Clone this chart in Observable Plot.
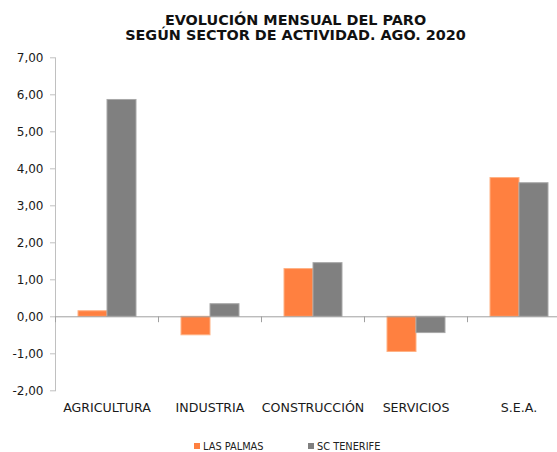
<!DOCTYPE html>
<html>
<head>
<meta charset="utf-8">
<script src="https://cdn.jsdelivr.net/npm/d3@7"></script>
<script src="https://cdn.jsdelivr.net/npm/@observablehq/plot@0.6"></script>
<style>
  html, body { margin: 0; padding: 0; background: #fff; }
  body { width: 557px; height: 452px; overflow: hidden; position: relative; font-family: "DejaVu Sans", sans-serif; }
  #title { box-sizing: border-box; height: 44px; padding-top: 13px; padding-left: 34px; text-align: center;
           font-weight: bold; font-size: 14.4px; line-height: 15px; color: #111; white-space: nowrap; }
  #chart { width: 557px; overflow: hidden; }
  #legend { position: absolute; top: 439px; left: 0; width: 557px; height: 14px; font-size: 9.8px; color: #222; }
  .item { position: absolute; top: 0; display: flex; align-items: center; height: 14px; }
  .sw { width: 6px; height: 6px; margin-right: 3px; }
</style>
</head>
<body>
<div id="title">EVOLUCIÓN MENSUAL DEL PARO<br>SEGÚN SECTOR DE ACTIVIDAD. AGO. 2020</div>
<div id="chart"></div>
<div id="legend"></div>
<script>
const categories = ["AGRICULTURA", "INDUSTRIA", "CONSTRUCCIÓN", "SERVICIOS", "S.E.A."];
const series = ["LAS PALMAS", "SC TENERIFE"];
const lasPalmas = [0.15, -0.50, 1.29, -0.95, 3.75];
const scTenerife = [5.86, 0.34, 1.45, -0.44, 3.61];
const yTicks = [-2, -1, 0, 1, 2, 3, 4, 5, 6, 7];
const colors = ["#FF8040", "#808080"];
const borders = ["#FFB184", "#A8A8A8"];

const values = [lasPalmas, scTenerife];
const rows = [];
categories.forEach((c, i) => series.forEach((s, j) => rows.push({cat: c, serie: s, value: values[j][i]})));

const fmt = d => d.toFixed(2).replace(".", ",");

const plot = Plot.plot({
  width: 570,
  height: 380,
  marginLeft: 54,
  marginRight: 0,
  marginTop: 13.3,
  marginBottom: 33.7,
  style: {fontFamily: "DejaVu Sans", fontSize: "12px", color: "#1a1a1a", background: "white", maxWidth: "none"},
  fx: {domain: categories, padding: 0, label: null, axis: null},
  x: {domain: series, paddingInner: 0, paddingOuter: 0.757, axis: null},
  y: {domain: [-2, 7], axis: null},
  color: {domain: series, range: colors},
  marks: [
    Plot.frame({anchor: "left", facetAnchor: "left", stroke: "#c0c0c0"}),
    Plot.barY(rows, {fx: "cat", x: "serie", y: "value", fill: "serie",
      stroke: d => borders[series.indexOf(d.serie)], strokeWidth: 1}),
    Plot.ruleY([0], {stroke: "#a0a0a0", strokeWidth: 1}),
    Plot.vector([0], {y: d => d, frameAnchor: "left", length: 5, rotate: 180, anchor: "start",
      stroke: "#a0a0a0", strokeWidth: 1,
      shape: {draw(context, l) { context.moveTo(0, 0); context.lineTo(0, -l); }}}),
    Plot.axisY({ticks: yTicks, tickSize: 5, tickPadding: 7, tickFormat: fmt, stroke: "#c0c0c0",
      fill: "#1a1a1a", fontSize: 12, label: null}),
    Plot.axisFx({anchor: "bottom", tickSize: 0, tickPadding: 12, fontSize: 12.6, label: null, fill: "#1a1a1a"})
  ]
});
document.getElementById("chart").appendChild(plot);

const legend = document.getElementById("legend");
const legendLeft = [194, 308];
series.forEach((s, i) => {
  const item = document.createElement("div");
  item.className = "item";
  item.style.left = legendLeft[i] + "px";
  const sw = document.createElement("span");
  sw.className = "sw";
  sw.style.background = colors[i];
  const t = document.createElement("span");
  t.textContent = s;
  item.appendChild(sw);
  item.appendChild(t);
  legend.appendChild(item);
});
</script>
</body>
</html>
